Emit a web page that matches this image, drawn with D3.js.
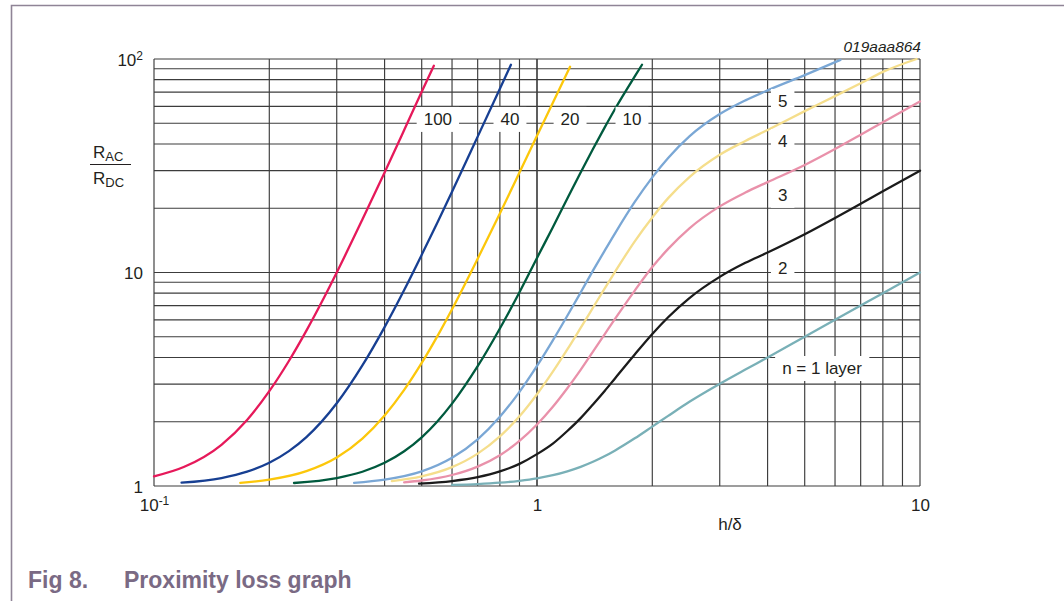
<!DOCTYPE html>
<html>
<head>
<meta charset="utf-8">
<script src="https://cdn.jsdelivr.net/npm/d3@7/dist/d3.min.js"></script>
<style>
  html, body { margin: 0; padding: 0; background: #fff; }
  svg { display: block; }
  text { font-family: "Liberation Sans", Arial, Helvetica, sans-serif; fill: #231f20; }
</style>
</head>
<body>
<svg id="chart" width="1064" height="601"></svg>
<script>
// Proximity-effect loss factor RAC/RDC versus conductor thickness h/δ,
// one curve per number of winding layers n.

const layerCounts = [100, 40, 20, 10, 5, 4, 3, 2, 1];

const curve100 = [[0.1,1.11],[0.12,1.23],[0.15,1.56],[0.175,2.04],[0.2,2.78],[0.225,3.85],[0.25,5.34],[0.275,7.35],[0.3,10.0],[0.35,17.7],[0.4,29.4],[0.45,46.5],[0.5,70.3],[0.538,93]];
const curve40 = [[0.118,1.036],[0.15,1.09],[0.175,1.167],[0.2,1.284],[0.225,1.456],[0.25,1.694],[0.3,2.44],[0.35,3.67],[0.4,5.55],[0.45,8.28],[0.5,12.1],[0.55,17.2],[0.6,23.9],[0.7,43.3],[0.8,72.6],[0.855,94]];
const curve20 = [[0.168,1.035],[0.2,1.071],[0.25,1.174],[0.3,1.36],[0.35,1.667],[0.4,2.14],[0.45,2.82],[0.5,3.77],[0.55,5.05],[0.6,6.73],[0.7,11.6],[0.8,18.9],[0.9,29.4],[1.0,43.7],[1.1,62.4],[1.22,92]];
const curve10 = [[0.232,1.033],[0.3,1.09],[0.35,1.166],[0.4,1.284],[0.45,1.454],[0.5,1.69],[0.55,2.01],[0.6,2.43],[0.7,3.64],[0.8,5.47],[0.9,8.08],[1.0,11.7],[1.1,16.3],[1.2,22.2],[1.3,29.4],[1.4,37.9],[1.5,47.6],[1.6,58.5],[1.8,82.9],[1.88,94]];
const curve5 = [[0.333,1.034],[0.4,1.07],[0.5,1.17],[0.6,1.355],[0.7,1.655],[0.8,2.11],[0.9,2.76],[1.0,3.65],[1.1,4.81],[1.2,6.27],[1.3,8.06],[1.4,10.2],[1.5,12.6],[1.6,15.3],[1.8,21.4],[2.0,27.9],[2.2,34.4],[2.5,43.4],[3,55.2],[3.5,64],[4,71.3],[5,84],[6.2,99]];
const curve4 = [[0.418,1.054],[0.5,1.11],[0.6,1.226],[0.7,1.418],[0.8,1.708],[0.9,2.12],[1.0,2.69],[1.1,3.43],[1.2,4.36],[1.3,5.5],[1.4,6.84],[1.5,8.38],[1.6,10.1],[1.8,14.0],[2.0,18.1],[2.2,22.3],[2.5,28.0],[3,35.6],[3.5,41.3],[4,46.5],[5,57],[6,67],[7,77],[8,87],[9.8,100]];
const curve3 = [[0.45,1.04],[0.5,1.061],[0.6,1.126],[0.7,1.233],[0.8,1.394],[0.9,1.626],[1.0,1.94],[1.1,2.35],[1.2,2.87],[1.3,3.5],[1.4,4.26],[1.5,5.12],[1.6,6.08],[1.8,8.23],[2.0,10.6],[2.2,12.9],[2.5,16.1],[3,20.4],[3.5,23.7],[4,26.5],[5,31.9],[6,37.9],[7,44.2],[8,50.6],[10,63.3]];
const curve2 = [[0.492,1.025],[0.6,1.055],[0.7,1.10],[0.8,1.17],[0.9,1.27],[1.0,1.41],[1.1,1.58],[1.2,1.81],[1.3,2.08],[1.4,2.41],[1.5,2.78],[1.6,3.2],[1.8,4.13],[2.0,5.15],[2.2,6.17],[2.5,7.59],[3,9.54],[3.5,11.1],[4,12.4],[5,15.1],[6,18],[7,21],[8,24],[10,30]];
const curve1 = [[0.6,1.012],[0.7,1.021],[0.8,1.036],[0.9,1.058],[1.0,1.086],[1.1,1.123],[1.2,1.171],[1.3,1.229],[1.4,1.298],[1.5,1.378],[1.6,1.468],[1.8,1.672],[2.0,1.898],[2.2,2.13],[2.5,2.48],[3,3.01],[3.5,3.51],[4,4.0],[5,5.0],[6,6.0],[7,7.0],[8,8.0],[10,10.0]];

const curveLabels = ["100", "40", "20", "10", "5", "4", "3", "2", "n = 1 layer"];
const curveColors = ["#e6195a", "#173f92", "#fcc70a", "#005a3e", "#7aa7d5", "#f5de8c", "#e991aa", "#1b1b1b", "#79b0b7"];

const xTickValues = [0.1, 1, 10];
const xTickLabels = [["10", "-1"], ["1", ""], ["10", ""]];
const yTickValues = [1, 10, 100];
const yTickLabels = [["1", ""], ["10", ""], ["10", "2"]];

// label anchors in data units (h/δ, RAC/RDC)
const labelAnchors = [[0.551, 52.4], [0.850, 52.4], [1.22, 52.4], [1.77, 52.4], [4.38, 63.6], [4.38, 41.3], [4.38, 23.1], [4.38, 10.5], [5.55, 3.57]];

const series = layerCounts.map((n, i) => ({
  n,
  points: [curve100, curve40, curve20, curve10, curve5, curve4, curve3, curve2, curve1][i],
  color: curveColors[i],
  label: curveLabels[i],
  anchor: labelAnchors[i]
}));

const svg = d3.select("#chart");
const plot = { left: 154, right: 920, top: 59, bottom: 486 };

// frame around the page
svg.append("path")
  .attr("d", "M11.5,601 V5.5 H1064")
  .attr("fill", "none")
  .attr("stroke", "#8f8496")
  .attr("stroke-width", 1.6);

const x = d3.scaleLog().domain([0.1, 10]).range([plot.left, plot.right]);
const y = d3.scaleLog().domain([1, 100]).range([plot.bottom, plot.top]);

// grid: every 1..9 multiple of each decade
const xGrid = [];
const yGrid = [];
[0.1, 1].forEach(d => { for (let k = 1; k <= 10; k++) xGrid.push(d * k); });
[1, 10].forEach(d => { for (let k = 1; k <= 10; k++) yGrid.push(d * k); });

const grid = svg.append("g").attr("stroke", "#3c3c3c").attr("stroke-width", 1.15);
grid.selectAll("line.v").data(xGrid).join("line")
  .attr("class", "v")
  .attr("x1", d => x(d)).attr("x2", d => x(d))
  .attr("y1", plot.top).attr("y2", plot.bottom);
grid.selectAll("line.h").data(yGrid).join("line")
  .attr("class", "h")
  .attr("y1", d => y(d)).attr("y2", d => y(d))
  .attr("x1", plot.left).attr("x2", plot.right);

// tick labels
const xAxis = d3.axisBottom(x).tickValues(xTickValues).tickSize(0).tickFormat(() => "");
const xg = svg.append("g").attr("transform", `translate(0,${plot.bottom})`).call(xAxis);
xg.select(".domain").remove();
xg.selectAll(".tick").each(function (d, i) {
  const t = d3.select(this).append("text")
    .attr("y", 25).attr("text-anchor", "middle")
    .style("font-size", "17px");
  t.append("tspan").text(xTickLabels[i][0]);
  if (xTickLabels[i][1]) {
    t.append("tspan").attr("dy", -6).style("font-size", "12px").text(xTickLabels[i][1]);
  }
});

const yAxis = d3.axisLeft(y).tickValues(yTickValues).tickSize(0).tickFormat(() => "");
const yg = svg.append("g").attr("transform", `translate(${plot.left},0)`).call(yAxis);
yg.select(".domain").remove();
yg.selectAll(".tick").each(function (d, i) {
  const t = d3.select(this).append("text")
    .attr("x", -11).attr("y", 6).attr("text-anchor", "end")
    .style("font-size", "17px");
  t.append("tspan").text(yTickLabels[i][0]);
  if (yTickLabels[i][1]) {
    t.append("tspan").attr("dy", -6).style("font-size", "12px").text(yTickLabels[i][1]);
  }
});

// axis titles
const xt = svg.append("text")
  .attr("x", 730).attr("y", 530).attr("text-anchor", "middle")
  .style("font-size", "17px").text("h/δ");

const yt = svg.append("g");
const rac = yt.append("text").attr("x", 93).attr("y", 158).style("font-size", "17px");
rac.append("tspan").text("R");
rac.append("tspan").attr("dy", 3).style("font-size", "13px").text("AC");
yt.append("line").attr("x1", 90).attr("x2", 131).attr("y1", 164.5).attr("y2", 164.5)
  .attr("stroke", "#231f20").attr("stroke-width", 1.1);
const rdc = yt.append("text").attr("x", 93).attr("y", 184).style("font-size", "17px");
rdc.append("tspan").text("R");
rdc.append("tspan").attr("dy", 3).style("font-size", "13px").text("DC");

svg.append("text")
  .attr("x", 921).attr("y", 52).attr("text-anchor", "end")
  .style("font-size", "15.5px").style("font-style", "italic")
  .text("019aaa864");

// label backgrounds break the grid around each curve label
const labelGroup = svg.append("g");
const labelTexts = labelGroup.selectAll("text").data(series).join("text")
  .attr("x", d => x(d.anchor[0]))
  .attr("y", d => y(d.anchor[1]) + 6)
  .attr("text-anchor", "middle")
  .style("font-size", "17px")
  .text(d => d.label);
labelTexts.each(function () {
  const b = this.getBBox();
  labelGroup.insert("rect", "text")
    .attr("x", b.x - 7).attr("y", b.y - 3)
    .attr("width", b.width + 14).attr("height", b.height + 6)
    .attr("fill", "#fff");
});

// curves
const line = d3.line()
  .x(d => x(d[0]))
  .y(d => y(d[1]))
  .curve(d3.curveMonotoneX);

svg.append("g").selectAll("path").data(series).join("path")
  .attr("d", d => line(d.points))
  .attr("fill", "none")
  .attr("stroke", d => d.color)
  .attr("stroke-width", 2.3)
  .attr("stroke-linecap", "round");

labelGroup.raise();
labelGroup.selectAll("rect").lower();

// caption
const cap = svg.append("text").attr("x", 28).attr("y", 588)
  .style("font-size", "23px").style("font-weight", "bold");
cap.append("tspan").style("fill", "#7a6a84").text("Fig 8.");
cap.append("tspan").attr("x", 124).style("fill", "#7a6a84").text("Proximity loss graph");
</script>
</body>
</html>
